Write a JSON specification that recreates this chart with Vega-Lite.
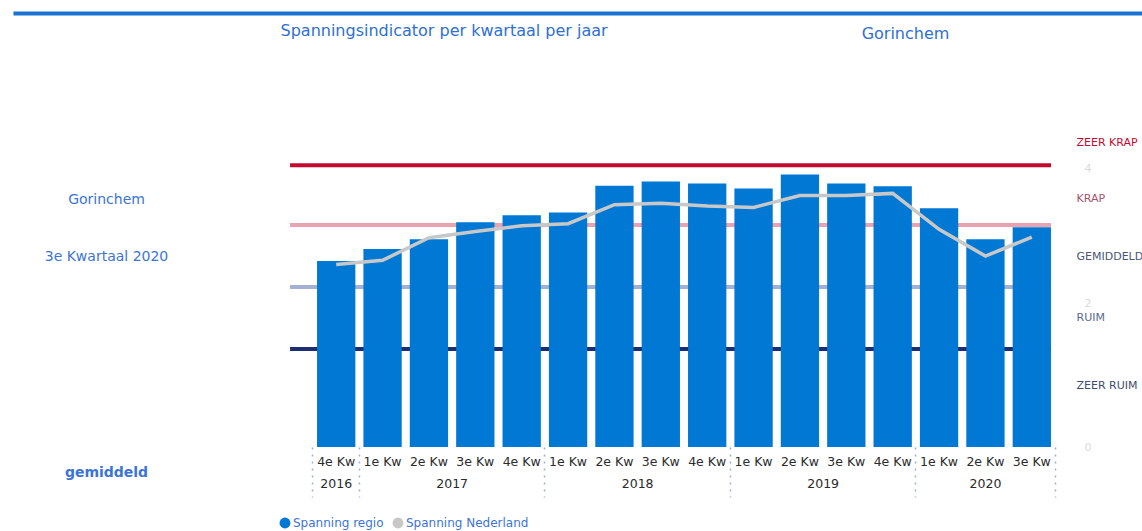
{
  "$schema": "https://vega.github.io/schema/vega-lite/v6.json",
  "width": 742,
  "height": 317,
  "autosize": {"type": "none"},
  "padding": {"left": 313, "top": 130, "right": 87, "bottom": 84},
  "background": "white",
  "config": {
    "view": {"stroke": null},
    "font": "DejaVu Sans",
    "axis": {"grid": false, "labelFont": "DejaVu Sans", "title": null},
    "legend": {"labelFont": "DejaVu Sans"}
  },
  "datasets": {
    "kwartalen": [
      {"periode": "4e Kw 2016", "regio": 2.64, "nederland": 2.59},
      {"periode": "1e Kw 2017", "regio": 2.81, "nederland": 2.65},
      {"periode": "2e Kw 2017", "regio": 2.95, "nederland": 2.97},
      {"periode": "3e Kw 2017", "regio": 3.19, "nederland": 3.06},
      {"periode": "4e Kw 2017", "regio": 3.29, "nederland": 3.14},
      {"periode": "1e Kw 2018", "regio": 3.33, "nederland": 3.17},
      {"periode": "2e Kw 2018", "regio": 3.71, "nederland": 3.44},
      {"periode": "3e Kw 2018", "regio": 3.77, "nederland": 3.46},
      {"periode": "4e Kw 2018", "regio": 3.74, "nederland": 3.42},
      {"periode": "1e Kw 2019", "regio": 3.67, "nederland": 3.40},
      {"periode": "2e Kw 2019", "regio": 3.87, "nederland": 3.57},
      {"periode": "3e Kw 2019", "regio": 3.74, "nederland": 3.57},
      {"periode": "4e Kw 2019", "regio": 3.70, "nederland": 3.60},
      {"periode": "1e Kw 2020", "regio": 3.39, "nederland": 3.09},
      {"periode": "2e Kw 2020", "regio": 2.95, "nederland": 2.71},
      {"periode": "3e Kw 2020", "regio": 3.12, "nederland": 2.98}
    ],
    "grenzen": [
      {"grens": "zeer krap", "waarde": 4.0},
      {"grens": "krap", "waarde": 3.15},
      {"grens": "ruim", "waarde": 2.27},
      {"grens": "zeer ruim", "waarde": 1.39}
    ]
  },
  "layer": [
    {
      "data": {"name": "grenzen"},
      "mark": {"type": "rule", "strokeWidth": 4},
      "encoding": {
        "x": {
          "datum": 0.2454,
          "type": "quantitative",
          "scale": {"domain": [0, 1], "range": [-300, 829], "nice": false, "zero": false},
          "axis": {
            "orient": "top",
            "offset": 117,
            "domain": true,
            "domainColor": "#1a73d0",
            "domainWidth": 4,
            "ticks": false,
            "values": [0.2365, 0.7901],
            "labelExpr": "datum.value < 0.5 ? 'Spanningsindicator per kwartaal per jaar' : 'Gorinchem'",
            "labelAlign": {"condition": {"test": "datum.value < 0.5", "value": "left"}, "value": "center"},
            "labelPadding": {"condition": {"test": "datum.value < 0.5", "value": -25}, "value": -28},
            "labelFontSize": 16,
            "labelColor": "#2e6fd1",
            "labelFlush": false,
            "labelOverlap": false,
            "labelLimit": 1000
          }
        },
        "x2": {"datum": 0.9194},
        "y": {"field": "waarde", "type": "quantitative", "scale": {"domain": [0, 4.5], "nice": false}, "axis": null},
        "color": {
          "field": "grens",
          "type": "nominal",
          "scale": {"domain": ["zeer krap", "krap", "ruim", "zeer ruim"], "range": ["#c4092f", "#e8a2b0", "#a3b0d2", "#1c2d72"]},
          "legend": null
        }
      }
    },
    {
      "data": {"name": "kwartalen"},
      "layer": [
        {
          "mark": {"type": "bar"},
          "encoding": {
            "x": {
              "field": "periode",
              "type": "nominal",
              "sort": null,
              "scale": {"paddingInner": 0.174, "paddingOuter": 0.087},
              "axis": {
                "orient": "bottom",
                "domain": false,
                "ticks": true,
                "tickSize": 50,
                "tickColor": "#9ab0dc",
                "tickWidth": 1.5,
                "tickDash": [2, 5],
                "tickOpacity": {"condition": {"test": "datum.value == '4e Kw 2016'", "value": 1}, "value": 0},
                "bandPosition": -0.1055,
                "labelExpr": "slice(datum.value, 0, 5)",
                "labelPadding": -42,
                "labelAngle": 0,
                "labelFontSize": 12.5,
                "labelColor": "#2b2b2b",
                "labelOverlap": false,
                "labelLimit": 200
              }
            },
            "y": {
              "field": "regio",
              "type": "quantitative",
              "scale": {"domain": [0, 4.5], "nice": false},
              "axis": {
                "orient": "right",
                "domain": false,
                "ticks": false,
                "values": [0, 0.88, 1.84, 2.03, 2.711, 3.521, 3.96, 4.316],
                "labelExpr": "datum.value > 4.1 ? 'ZEER KRAP' : datum.value > 3.9 ? '4' : datum.value > 3 ? 'KRAP' : datum.value > 2.5 ? 'GEMIDDELD' : datum.value > 1.95 ? '2' : datum.value > 1 ? 'RUIM' : datum.value > 0 ? 'ZEER RUIM' : '0'",
                "labelAlign": "left",
                "labelPadding": {"condition": {"test": "datum.value == 0 || datum.value == 2.03 || datum.value == 3.96", "value": 29}, "value": 21},
                "labelColor": {
                  "condition": [
                    {"test": "datum.value == 0 || datum.value == 2.03 || datum.value == 3.96", "value": "#dadada"},
                    {"test": "datum.value > 4.1", "value": "#c4092f"},
                    {"test": "datum.value > 3", "value": "#a8506c"},
                    {"test": "datum.value > 2.5", "value": "#4a5675"},
                    {"test": "datum.value > 1.5", "value": "#5c6a90"}
                  ],
                  "value": "#3e4c6e"
                },
                "labelFontSize": 11,
                "labelOverlap": false,
                "labelLimit": 300
              }
            },
            "color": {
              "datum": "Spanning regio",
              "type": "nominal",
              "scale": {"domain": ["Spanning regio", "Spanning Nederland"], "range": ["#0078d4", "#c8c8c8"]},
              "legend": {
                "orient": "none",
                "legendX": -34,
                "legendY": 387,
                "direction": "horizontal",
                "title": null,
                "symbolType": "circle",
                "symbolSize": 120,
                "symbolStrokeWidth": 0,
                "labelFontSize": 12,
                "labelColor": "#3b74d6",
                "labelOffset": 2,
                "columnPadding": 8,
                "padding": 0,
                "labelLimit": 300
              }
            }
          }
        },
        {
          "mark": {"type": "line", "strokeWidth": 3.5},
          "encoding": {
            "x": {
              "field": "periode",
              "type": "nominal",
              "sort": null,
              "axis": {
                "orient": "bottom",
                "domain": false,
                "ticks": true,
                "tickSize": 50,
                "tickColor": "#9ab0dc",
                "tickWidth": 1.5,
                "tickDash": [2, 5],
                "tickOpacity": {"condition": {"test": "indexof(['4e Kw 2016', '4e Kw 2017', '4e Kw 2018', '4e Kw 2019', '3e Kw 2020'], datum.value) >= 0", "value": 1}, "value": 0},
                "values": ["4e Kw 2016", "2e Kw 2017", "4e Kw 2017", "2e Kw 2018", "4e Kw 2018", "2e Kw 2019", "4e Kw 2019", "2e Kw 2020", "3e Kw 2020"],
                "bandPosition": 1.1055,
                "labelExpr": "datum.value == '4e Kw 2016' || slice(datum.value, 0, 2) == '2e' ? slice(datum.value, -4) : ''",
                "labelOffset": {"condition": {"test": "indexof(['2e Kw 2017', '2e Kw 2018', '2e Kw 2019'], datum.value) >= 0", "value": 23.19}, "value": 0},
                "labelPadding": -20,
                "labelAngle": 0,
                "labelFontSize": 12.5,
                "labelColor": "#2b2b2b",
                "labelOverlap": false,
                "labelLimit": 200
              }
            },
            "y": {
              "field": "nederland",
              "type": "quantitative",
              "axis": {
                "orient": "left",
                "domain": false,
                "ticks": false,
                "values": [0, 2.7, 3.52],
                "labelExpr": "datum.value > 3 ? 'Gorinchem' : datum.value > 1 ? '3e Kwartaal 2020' : 'gemiddeld'",
                "labelAlign": "center",
                "labelPadding": 207,
                "labelOffset": {"condition": {"test": "datum.value == 0", "value": 25}, "value": 0},
                "labelFontWeight": {"condition": {"test": "datum.value == 0", "value": "bold"}, "value": "normal"},
                "labelColor": "#3b74d6",
                "labelFontSize": 14,
                "labelOverlap": false,
                "labelLimit": 300
              }
            },
            "color": {"datum": "Spanning Nederland", "type": "nominal", "legend": null}
          }
        }
      ],
      "resolve": {"axis": {"x": "independent", "y": "independent"}}
    }
  ],
  "resolve": {"scale": {"x": "independent", "color": "independent"}, "axis": {"x": "independent", "y": "independent"}}
}
